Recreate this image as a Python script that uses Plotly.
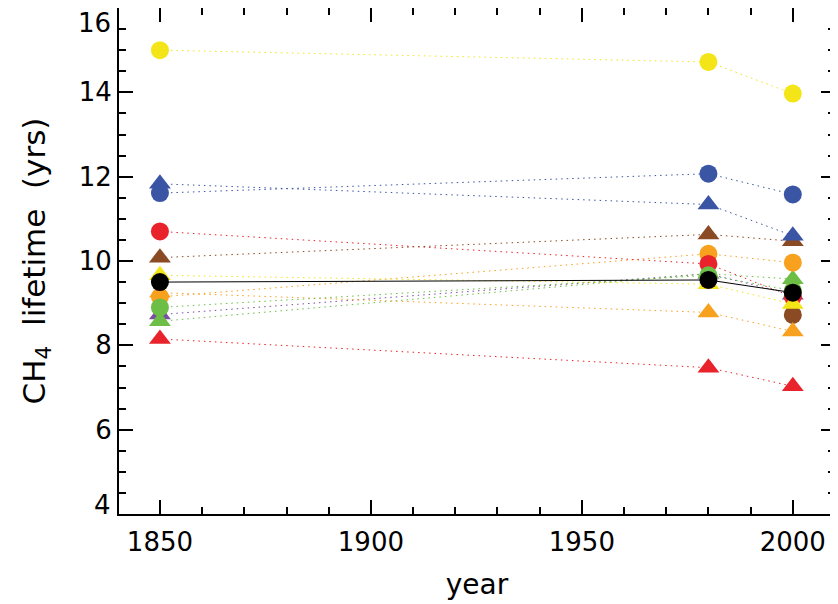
import plotly.graph_objects as go

years = [1850, 1980, 2000]

# CH4 lifetime (yrs) per model; None = no value
yellow_circle = [15.0, 14.72, 13.97]
yellow_triangle = [9.66, 9.45, 8.98]
blue_circle = [11.61, 12.07, 11.58]
blue_triangle = [11.83, 11.34, 10.6]
red_circle = [10.7, 9.93, 9.15]
red_triangle = [8.15, 7.47, 7.03]
brown_triangle = [10.08, 10.63, 10.47]
brown_circle = [None, None, 8.72]
orange_circle = [9.15, 10.17, 9.96]
orange_triangle = [9.25, 8.78, 8.33]
green_circle = [8.9, 9.66, 9.3]
green_triangle = [8.57, 9.7, 9.57]
purple_triangle = [8.73, 9.7, 9.2]
black_circle = [9.5, 9.55, 9.25]

yticks_inner = [6, 8, 10, 12, 14]
yticks_end = [4, 16]
xticks = [1850, 1900, 1950, 2000]

YEL = "#F4E518"
BLU = "#3B55A5"
RED = "#E9232B"
BRN = "#8A4A24"
ORG = "#F7A11E"
GRN = "#6DBE46"
PUR = "#7A4FA0"

series = [
    ("brown circle", brown_circle, BRN, "circle"),
    ("purple triangle", purple_triangle, PUR, "triangle-up"),
    ("green triangle", green_triangle, GRN, "triangle-up"),
    ("orange triangle", orange_triangle, ORG, "triangle-up"),
    ("orange circle", orange_circle, ORG, "circle"),
    ("red circle", red_circle, RED, "circle"),
    ("green circle", green_circle, GRN, "circle"),
    ("red triangle", red_triangle, RED, "triangle-up"),
    ("brown triangle", brown_triangle, BRN, "triangle-up"),
    ("blue triangle", blue_triangle, BLU, "triangle-up"),
    ("blue circle", blue_circle, BLU, "circle"),
    ("yellow triangle", yellow_triangle, YEL, "triangle-up"),
    ("yellow circle", yellow_circle, YEL, "circle"),
]

fig = go.Figure()
for name, vals, col, sym in series:
    size = 18 if sym == "circle" else 19
    fig.add_trace(go.Scatter(
        x=years, y=vals, name=name, mode="lines+markers", connectgaps=False,
        line=dict(color=col, width=1, dash="1.5px,4px"),
        marker=dict(symbol=sym, size=size, color=col, line=dict(width=0)),
    ))

fig.add_trace(go.Scatter(
    x=years, y=black_circle, name="mean", mode="lines+markers",
    line=dict(color="black", width=1),
    marker=dict(symbol="circle", size=18, color="black", line=dict(width=0)),
))

FONT = "DejaVu Sans, sans-serif"

# page body has an 8px margin: figure is sized so the frame lands where the reference has it
fig.update_layout(
    width=830, height=596,
    margin=dict(l=111, r=3, t=0, b=90),
    paper_bgcolor="white", plot_bgcolor="white",
    showlegend=False,
    font=dict(family=FONT, size=26, color="black"),
    xaxis=dict(
        range=[1840.3, 2010], tickvals=xticks, ticktext=[str(v) for v in xticks],
        ticks="inside", ticklen=14, tickwidth=2, tickcolor="black",
        minor=dict(dtick=10, ticks="inside", ticklen=7, tickwidth=2, tickcolor="black"),
        showline=True, linecolor="black", linewidth=2, mirror="ticks",
        showgrid=False, zeroline=False, automargin=False,
        ticklabelstandoff=4,
        title=dict(text="year", font=dict(size=28), standoff=18),
        tickfont=dict(size=26),
    ),
    yaxis=dict(
        range=[4, 16], tickvals=yticks_inner, ticktext=[str(v) for v in yticks_inner],
        ticks="inside", ticklen=14, tickwidth=2, tickcolor="black",
        minor=dict(dtick=0.5, ticks="inside", ticklen=7, tickwidth=2, tickcolor="black"),
        showline=True, linecolor="black", linewidth=2, mirror="ticks",
        showgrid=False, zeroline=False, automargin=False,
        title=dict(text="CH<sub>4</sub>  lifetime  (yrs)", font=dict(size=31), standoff=24),
        tickfont=dict(size=26),
    ),
)

# end labels kept inside the frame (as in the reference)
fig.add_annotation(
    x=0, xref="paper", xanchor="right", xshift=-6,
    y=yticks_end[1], yref="y", yanchor="top", yshift=2,
    text=str(yticks_end[1]), showarrow=False, font=dict(size=26, family=FONT),
)
fig.add_annotation(
    x=0, xref="paper", xanchor="right", xshift=-6,
    y=yticks_end[0], yref="y", yanchor="middle", yshift=9,
    text=str(yticks_end[0]), showarrow=False, font=dict(size=26, family=FONT),
)

fig.write_html("out.html")
